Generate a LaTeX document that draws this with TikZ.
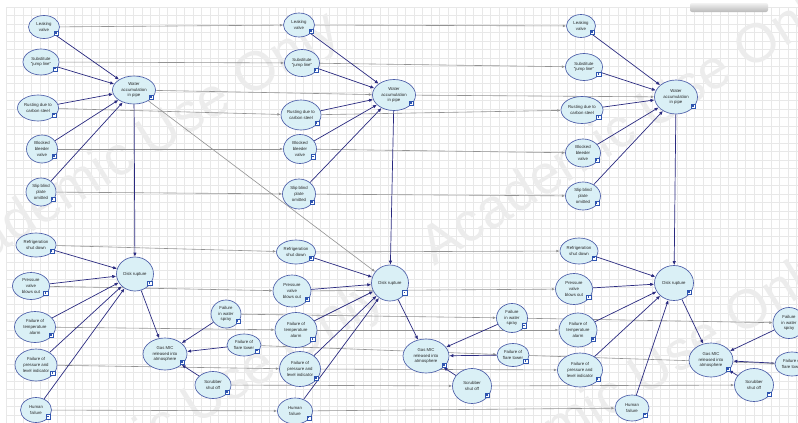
\documentclass[tikz,border=0pt]{standalone}
\usepackage{fontspec}
\setmainfont{Liberation Sans}
\usetikzlibrary{shapes.geometric,arrows.meta,calc}

\definecolor{nodefill}{HTML}{DAF0F6}
\definecolor{nodeline}{HTML}{4A5CA8}
\definecolor{arrowblue}{HTML}{2A2A80}
\definecolor{tempgray}{HTML}{939393}
\definecolor{gridc}{HTML}{E8E8E8}
\definecolor{wmgray}{HTML}{ECECEC}
\definecolor{iconblue}{HTML}{2F55B0}

\pgfdeclarelayer{bg}
\pgfdeclarelayer{wm}
\pgfdeclarelayer{edges}
\pgfsetlayers{bg,wm,edges,main}

\tikzset{
  bnode/.style={ellipse, draw=nodeline, line width=0.65pt, fill=nodefill, inner sep=0pt,
    align=center, text=black!85, font=\fontsize{4.3}{5.6}\selectfont},
  icon/.style={rectangle, draw=iconblue, line width=0.5pt, fill=white, minimum size=4.2pt, inner sep=0pt,
    path picture={\fill[iconblue] ([shift={(0.9pt,-0.9pt)}]path picture bounding box.north west) rectangle ++(1.6pt,-1.6pt);}},
  barrow/.style={draw=arrowblue, line width=0.7pt, -{Latex[length=4pt,width=3.4pt]}},
  tarrow/.style={draw=tempgray, line width=0.6pt, -{Latex[length=3.4pt,width=2.8pt]}},
  wmtext/.style={font=\fontsize{55}{55}\selectfont, rotate=32, inner sep=0pt, text=wmgray}
}

\newcommand{\mknode}[6]{%
  \node[bnode, minimum width=#4pt, minimum height=#5pt] (#1) at (#2,#3) {#6};
  \node[icon] at ($(#1.center)+(0.4*#4,0.27*#5)$) {};
}

\begin{document}
\begin{tikzpicture}[x=1pt,y=-1pt]
\useasboundingbox (0,0) rectangle (798,423);

\begin{pgfonlayer}{bg}
  \fill[white] (0,0) rectangle (798,423);
  \foreach \k in {0,...,93} {\draw[gridc, line width=0.35pt] (6+8.5*\k,7) -- (6+8.5*\k,423);}
  \foreach \k in {0,...,49} {\draw[gridc, line width=0.35pt] (6,7+8.5*\k) -- (798,7+8.5*\k);}
  \shade[top color=gray!10, bottom color=gray!55, rounded corners=2pt] (690,3) rectangle (768,12);
\end{pgfonlayer}

\begin{pgfonlayer}{wm}
  \node[wmtext] (wm1) at (131,154) {Academic Use Only};
  \node[wmtext] (wm2) at (632,126) {Academic Use Only};
  \node[wmtext] (wm3) at (176,421) {Academic Use Only};
  \node[wmtext] (wm4) at (623,392) {Academic Use Only};
\end{pgfonlayer}

% ---- slice 1
\mknode{L1}{44}{27}{31}{23}{Leaking\\valve}
\mknode{S1}{41}{62}{36}{26}{Substitute\\"jump line"}
\mknode{W1}{134}{90}{43}{28}{Water\\accumulation\\in pipe}
\mknode{R1}{38}{108}{41}{26}{Rusting due to\\carbon steel}
\mknode{B1}{42}{149}{31}{28}{Blocked\\bleeder\\valve}
\mknode{P1}{41}{192}{30}{28}{Slip blind\\plate\\omitted}
\mknode{F1}{36}{245}{40}{24}{Refrigeration\\shut down}
\mknode{PV1}{31}{286}{37}{27}{Pressure\\valve\\blows out}
\mknode{D1}{135}{274}{37}{34}{Disk rupture}
\mknode{T1}{35}{327}{41}{31}{Failure of\\temperature\\alarm}
\mknode{PL1}{36}{365}{42}{32}{Failure of\\pressure and\\level indicator}
\mknode{H1}{36}{410}{31}{25}{Human\\failure}
\mknode{G1}{165}{354}{44}{32}{Gas MIC\\released into\\atmosphere}
\mknode{WS1}{226}{314}{30}{28}{Failure\\in water\\spray}
\mknode{FT1}{244}{345}{34}{22}{Failure of\\flare tower}
\mknode{SC1}{213}{385}{36}{27}{Scrubber\\shut off}
% ---- slice 2
\mknode{L2}{299}{25}{31}{24}{Leaking\\valve}
\mknode{S2}{302}{63}{35}{27}{Substitute\\"jump line"}
\mknode{W2}{394}{95}{43}{31}{Water\\accumulation\\in pipe}
\mknode{R2}{301}{115}{40}{30}{Rusting due to\\carbon steel}
\mknode{B2}{300}{149}{33}{29}{Blocked\\bleeder\\valve}
\mknode{P2}{299}{194}{33}{30}{Slip blind\\plate\\omitted}
\mknode{F2}{296}{252}{39}{24}{Refrigeration\\shut down}
\mknode{PV2}{292}{291}{38}{32}{Pressure\\valve\\blows out}
\mknode{D2}{390}{283}{37}{36}{Disk rupture}
\mknode{T2}{296}{330}{42}{35}{Failure of\\temperature\\alarm}
\mknode{PL2}{300}{369}{41}{35}{Failure of\\pressure and\\level indicator}
\mknode{H2}{295}{411}{35}{26}{Human\\failure}
\mknode{G2}{426}{356}{46}{34}{Gas MIC\\released into\\atmosphere}
\mknode{WS2}{512}{318}{31}{29}{Failure\\in water\\spray}
\mknode{FT2}{513}{355}{32}{23}{Failure of\\flare tower}
\mknode{SC2}{472}{386}{39}{35}{Scrubber\\shut off}
% ---- slice 3
\mknode{L3}{581}{26}{29}{23}{Leaking\\valve}
\mknode{S3}{584}{67}{37}{27}{Substitute\\"jump line"}
\mknode{W3}{676}{97}{43}{34}{Water\\accumulation\\in pipe}
\mknode{R3}{582}{110}{42}{27}{Rusting due to\\carbon steel}
\mknode{B3}{583}{153}{35}{28}{Blocked\\bleeder\\valve}
\mknode{P3}{583}{196}{35}{28}{Slip blind\\plate\\omitted}
\mknode{F3}{579}{251}{38}{26}{Refrigeration\\shut down}
\mknode{PV3}{574}{289}{37}{31}{Pressure\\valve\\blows out}
\mknode{D3}{674}{283}{39}{35}{Disk rupture}
\mknode{T3}{578}{330}{38}{34}{Failure of\\temperature\\alarm}
\mknode{PL3}{580}{370}{45}{34}{Failure of\\pressure and\\level indicator}
\mknode{H3}{632}{408}{34}{26}{Human\\failure}
\mknode{G3}{711}{360}{44}{34}{Gas MIC\\released into\\atmosphere}
\mknode{WS3}{789}{323}{32}{31}{Failure\\in water\\spray}
\mknode{FT3}{792}{364}{34}{24}{Failure of\\flare tower}
\mknode{SC3}{754}{385}{39}{33}{Scrubber\\shut off}

\begin{pgfonlayer}{edges}
  \foreach \i/\j in {1/2,2/3} {
    \foreach \n in {L,S,W,R,B,P,F,PV,T,PL,H,WS,FT,SC} {\draw[tarrow] (\n\i) -- (\n\j);}
  }
  \draw[tarrow] (W1) -- (D2);
  \foreach \i in {1,2,3} {
    \foreach \n in {L,S,R,B,P} {\draw[barrow] (\n\i) -- (W\i);}
    \draw[barrow] (W\i) -- (D\i);
    \foreach \n in {F,PV,T,PL,H} {\draw[barrow] (\n\i) -- (D\i);}
    \foreach \n in {D,WS,FT,SC} {\draw[barrow] (\n\i) -- (G\i);}
  }
\end{pgfonlayer}
\end{tikzpicture}
\end{document}
